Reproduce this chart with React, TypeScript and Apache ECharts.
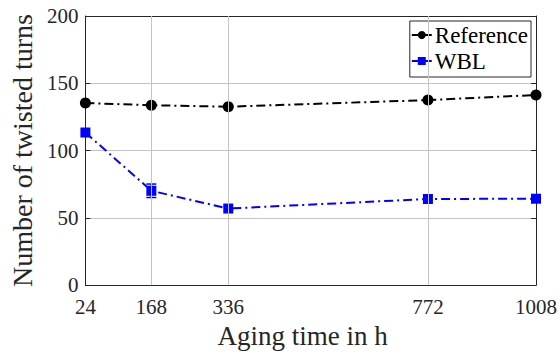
import React, { useEffect, useRef } from "react";
import * as echarts from "echarts";

const agingHours = [24, 168, 336, 772, 1008];
const referenceTurns = [135.3, 133.7, 132.6, 137.5, 141.3];
const wblTurns = [113.4, 70.1, 56.9, 64.0, 64.2];
const wblError = [0, 5, 0, 0, 0];
const yTicks = [0, 50, 100, 150, 200];
const xGridLines = [168, 336, 772];

const FONT = "'Liberation Serif', 'DejaVu Serif', serif";
const AX = "#262626";
const GRID = "#c4c4c4";

export default function App() {
  const ref = useRef<HTMLDivElement>(null);
  useEffect(() => {
    if (!ref.current) return;
    const chart = echarts.init(ref.current, undefined, { renderer: "svg" });
    const refData = agingHours.map((x, i) => [x, referenceTurns[i]]);
    const wblData = agingHours.map((x, i) => [x, wblTurns[i]]);
    const errData = agingHours
      .map((x, i) => [x, wblTurns[i] - wblError[i], wblTurns[i] + wblError[i]])
      .filter((d, i) => wblError[i] > 0);
    const xAxisCommon = {
      type: "value" as const,
      min: 24,
      max: 1008,
      axisLine: { show: true, onZero: false, lineStyle: { color: AX, width: 1 } },
      splitLine: { show: false },
    };
    const yAxisCommon = {
      type: "value" as const,
      min: 0,
      max: 200,
      interval: 50,
      axisLine: { show: true, lineStyle: { color: AX, width: 1 } },
    };
    chart.setOption({
      animation: false,
      backgroundColor: "#ffffff",
      textStyle: { fontFamily: FONT },
      grid: { left: 80, right: 20, top: 16, bottom: 64, containLabel: false },
      xAxis: [
        {
          ...xAxisCommon,
          position: "bottom",
          name: "Aging time in h",
          nameLocation: "middle",
          nameGap: 32,
          nameTextStyle: { fontFamily: FONT, fontSize: 27, color: AX, padding: [0, 16, 0, 0] },
          axisTick: { show: true, inside: true, length: 5, customValues: agingHours, lineStyle: { color: AX } },
          axisLabel: {
            customValues: agingHours,
            fontFamily: FONT,
            fontSize: 21,
            color: AX,
            margin: 11,
            showMinLabel: true,
            showMaxLabel: true,
            formatter: (v: number) => String(v),
          },
        },
        {
          ...xAxisCommon,
          position: "top",
          axisTick: { show: true, inside: true, length: 5, customValues: agingHours, lineStyle: { color: AX } },
          axisLabel: { show: false },
        },
      ],
      yAxis: [
        {
          ...yAxisCommon,
          position: "left",
          name: "Number of twisted turns",
          nameLocation: "middle",
          nameGap: 48,
          nameTextStyle: { fontFamily: FONT, fontSize: 28, color: AX },
          axisTick: { show: true, inside: true, length: 5, lineStyle: { color: AX } },
          axisLabel: { fontFamily: FONT, fontSize: 21, color: AX, margin: 7, formatter: (v: number) => (yTicks.includes(v) ? String(v) : "") },
          splitLine: { show: true, lineStyle: { color: GRID, width: 1 } },
        },
        {
          ...yAxisCommon,
          position: "right",
          axisTick: { show: true, inside: true, length: 5, lineStyle: { color: AX } },
          axisLabel: { show: false },
          splitLine: { show: false },
        },
      ],
      legend: {
        orient: "vertical",
        right: 29,
        top: 21,
        padding: [1, 3, 3, 1],
        itemGap: 0,
        itemWidth: 20,
        itemHeight: 10,
        backgroundColor: "#ffffff",
        borderColor: AX,
        borderWidth: 1,
        borderRadius: 0,
        textStyle: { fontFamily: FONT, fontSize: 23, lineHeight: 26, color: "#000000", padding: [0, 0, 0, -2] },
        lineStyle: { type: "solid", width: 2 },
        data: ["Reference", "WBL"],
      },
      series: [
        {
          name: "grid-x",
          type: "line",
          data: [],
          silent: true,
          markLine: {
            silent: true,
            symbol: "none",
            label: { show: false },
            lineStyle: { color: GRID, width: 1, type: "solid" },
            data: xGridLines.map((x) => ({ xAxis: x })),
          },
          z: 1,
        },
        {
          name: "WBL",
          type: "line",
          data: wblData,
          symbol: "rect",
          symbolSize: 10,
          color: "#0000ff",
          itemStyle: { color: "#0000ff" },
          lineStyle: { color: "#0000ff", width: 2, type: [9, 4, 2, 4] },
          z: 3,
        },
        {
          name: "WBL-err",
          type: "custom",
          data: errData,
          silent: true,
          z: 4,
          renderItem: (params: any, api: any) => {
            const x = api.value(0);
            const lo = api.coord([x, api.value(1)]);
            const hi = api.coord([x, api.value(2)]);
            const w = 5;
            const style = { stroke: "#0000ff", lineWidth: 1.5 };
            return {
              type: "group",
              children: [
                { type: "line", shape: { x1: lo[0], y1: lo[1], x2: hi[0], y2: hi[1] }, style },
                { type: "line", shape: { x1: lo[0] - w, y1: lo[1], x2: lo[0] + w, y2: lo[1] }, style },
                { type: "line", shape: { x1: hi[0] - w, y1: hi[1], x2: hi[0] + w, y2: hi[1] }, style },
              ],
            };
          },
        },
        {
          name: "Reference",
          type: "line",
          data: refData,
          symbol: "circle",
          symbolSize: 11,
          color: "#000000",
          itemStyle: { color: "#000000" },
          lineStyle: { color: "#000000", width: 2, type: [9, 4, 2, 4] },
          z: 3,
        },
      ],
    });
    return () => chart.dispose();
  }, []);
  return <div ref={ref} style={{ position: "absolute", left: 0, top: 0, width: 560, height: 354 }} />;
}
